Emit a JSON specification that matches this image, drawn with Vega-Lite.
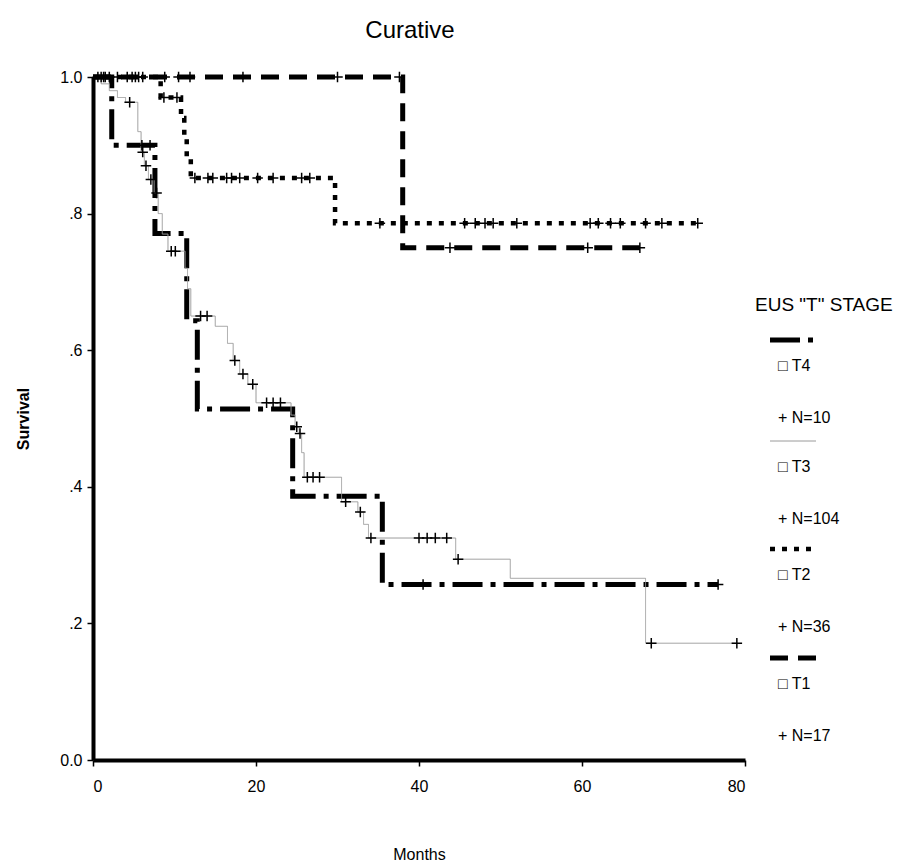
{
  "$schema": "https://vega.github.io/schema/vega-lite/v6.json",
  "width": 652,
  "height": 683,
  "autosize": {"type": "none"},
  "padding": {"left": 93, "top": 77, "right": 160, "bottom": 107},
  "background": "white",
  "config": {
    "font": "Liberation Sans",
    "view": {"stroke": null},
    "axis": {"grid": false, "domainColor": "black", "domainWidth": 4, "tickColor": "black", "tickWidth": 1.5, "tickSize": 6, "labelColor": "black", "labelFontSize": 16, "titleColor": "black", "labelFont": "Liberation Sans", "titleFont": "Liberation Sans"},
    "legend": {"orient": "none", "legendX": 662, "legendY": 219, "symbolType": "M1.4,-5.2L10.6,-5.2", "symbolSize": 100, "labelOffset": 7, "labelFontSize": 16, "labelColor": "black", "labelFont": "Liberation Sans", "titleFont": "Liberation Sans", "titleFontSize": 19, "titleFontWeight": "normal", "titleColor": "black", "titlePadding": 43, "rowPadding": 13, "labelLimit": 200, "titleLimit": 200}
  },
  "title": {"text": "Curative", "fontSize": 24, "font": "Liberation Sans", "fontWeight": "normal", "color": "black", "offset": 24, "dx": -9},
  "data": {"values": [
    {"g": "T4", "t": 0, "s": 1, "c": 0}, {"g": "T4", "t": 2.3, "s": 0.9, "c": 0}, {"g": "T4", "t": 7.6, "s": 0.771, "c": 0}, {"g": "T4", "t": 11.5, "s": 0.643, "c": 0}, {"g": "T4", "t": 12.8, "s": 0.514, "c": 0}, {"g": "T4", "t": 24.5, "s": 0.386, "c": 0}, {"g": "T4", "t": 35.5, "s": 0.257, "c": 0}, {"g": "T4", "t": 76.7, "s": 0.257, "c": 0},
    {"g": "T4", "t": 6.0, "s": 0.9, "c": 1}, {"g": "T4", "t": 7.0, "s": 0.9, "c": 1}, {"g": "T4", "t": 40.5, "s": 0.257, "c": 1}, {"g": "T4", "t": 76.7, "s": 0.257, "c": 1},

    {"g": "T3", "t": 0, "s": 1, "c": 0}, {"g": "T3", "t": 1, "s": 0.99, "c": 0}, {"g": "T3", "t": 2, "s": 0.98, "c": 0}, {"g": "T3", "t": 3, "s": 0.97, "c": 0}, {"g": "T3", "t": 4, "s": 0.963, "c": 0}, {"g": "T3", "t": 5.5, "s": 0.92, "c": 0}, {"g": "T3", "t": 5.9, "s": 0.89, "c": 0}, {"g": "T3", "t": 6.3, "s": 0.87, "c": 0}, {"g": "T3", "t": 6.8, "s": 0.85, "c": 0}, {"g": "T3", "t": 7.5, "s": 0.83, "c": 0}, {"g": "T3", "t": 8, "s": 0.8, "c": 0}, {"g": "T3", "t": 8.5, "s": 0.77, "c": 0}, {"g": "T3", "t": 9.2, "s": 0.745, "c": 0}, {"g": "T3", "t": 11.3, "s": 0.72, "c": 0}, {"g": "T3", "t": 11.6, "s": 0.69, "c": 0}, {"g": "T3", "t": 12, "s": 0.65, "c": 0}, {"g": "T3", "t": 15, "s": 0.635, "c": 0}, {"g": "T3", "t": 16.5, "s": 0.61, "c": 0}, {"g": "T3", "t": 17.2, "s": 0.585, "c": 0}, {"g": "T3", "t": 18, "s": 0.565, "c": 0}, {"g": "T3", "t": 19, "s": 0.55, "c": 0}, {"g": "T3", "t": 20, "s": 0.523, "c": 0}, {"g": "T3", "t": 24.3, "s": 0.505, "c": 0}, {"g": "T3", "t": 24.8, "s": 0.488, "c": 0}, {"g": "T3", "t": 25.3, "s": 0.478, "c": 0}, {"g": "T3", "t": 25.6, "s": 0.45, "c": 0}, {"g": "T3", "t": 25.9, "s": 0.414, "c": 0}, {"g": "T3", "t": 30.5, "s": 0.378, "c": 0}, {"g": "T3", "t": 32.5, "s": 0.363, "c": 0}, {"g": "T3", "t": 33.2, "s": 0.345, "c": 0}, {"g": "T3", "t": 33.8, "s": 0.325, "c": 0}, {"g": "T3", "t": 44.5, "s": 0.294, "c": 0}, {"g": "T3", "t": 51.2, "s": 0.266, "c": 0}, {"g": "T3", "t": 67.8, "s": 0.171, "c": 0}, {"g": "T3", "t": 79, "s": 0.171, "c": 0},
    {"g": "T3", "t": 4.5, "s": 0.963, "c": 1}, {"g": "T3", "t": 6.1, "s": 0.89, "c": 1}, {"g": "T3", "t": 6.5, "s": 0.87, "c": 1}, {"g": "T3", "t": 7.1, "s": 0.85, "c": 1}, {"g": "T3", "t": 7.8, "s": 0.83, "c": 1}, {"g": "T3", "t": 9.6, "s": 0.745, "c": 1}, {"g": "T3", "t": 10.1, "s": 0.745, "c": 1}, {"g": "T3", "t": 13.2, "s": 0.65, "c": 1}, {"g": "T3", "t": 14, "s": 0.65, "c": 1}, {"g": "T3", "t": 17.4, "s": 0.585, "c": 1}, {"g": "T3", "t": 18.4, "s": 0.565, "c": 1}, {"g": "T3", "t": 19.6, "s": 0.55, "c": 1}, {"g": "T3", "t": 21.3, "s": 0.523, "c": 1}, {"g": "T3", "t": 22.1, "s": 0.523, "c": 1}, {"g": "T3", "t": 23, "s": 0.523, "c": 1}, {"g": "T3", "t": 25.0, "s": 0.488, "c": 1}, {"g": "T3", "t": 25.4, "s": 0.478, "c": 1}, {"g": "T3", "t": 26.3, "s": 0.414, "c": 1}, {"g": "T3", "t": 27, "s": 0.414, "c": 1}, {"g": "T3", "t": 27.8, "s": 0.414, "c": 1}, {"g": "T3", "t": 31, "s": 0.378, "c": 1}, {"g": "T3", "t": 32.8, "s": 0.363, "c": 1}, {"g": "T3", "t": 34.1, "s": 0.325, "c": 1}, {"g": "T3", "t": 40, "s": 0.325, "c": 1}, {"g": "T3", "t": 41, "s": 0.325, "c": 1}, {"g": "T3", "t": 42, "s": 0.325, "c": 1}, {"g": "T3", "t": 43.4, "s": 0.325, "c": 1}, {"g": "T3", "t": 44.8, "s": 0.294, "c": 1}, {"g": "T3", "t": 68.5, "s": 0.171, "c": 1}, {"g": "T3", "t": 79, "s": 0.171, "c": 1},

    {"g": "T2", "t": 0, "s": 1, "c": 0}, {"g": "T2", "t": 8.3, "s": 0.97, "c": 0}, {"g": "T2", "t": 10.8, "s": 0.94, "c": 0}, {"g": "T2", "t": 11.2, "s": 0.91, "c": 0}, {"g": "T2", "t": 11.5, "s": 0.88, "c": 0}, {"g": "T2", "t": 12, "s": 0.852, "c": 0}, {"g": "T2", "t": 29.7, "s": 0.786, "c": 0}, {"g": "T2", "t": 74.2, "s": 0.786, "c": 0},
    {"g": "T2", "t": 1.5, "s": 1, "c": 1}, {"g": "T2", "t": 3, "s": 1, "c": 1}, {"g": "T2", "t": 4.8, "s": 1, "c": 1}, {"g": "T2", "t": 5.6, "s": 1, "c": 1}, {"g": "T2", "t": 8.7, "s": 0.97, "c": 1}, {"g": "T2", "t": 10.3, "s": 0.97, "c": 1}, {"g": "T2", "t": 12.5, "s": 0.852, "c": 1}, {"g": "T2", "t": 14.1, "s": 0.852, "c": 1}, {"g": "T2", "t": 14.7, "s": 0.852, "c": 1}, {"g": "T2", "t": 16.4, "s": 0.852, "c": 1}, {"g": "T2", "t": 17, "s": 0.852, "c": 1}, {"g": "T2", "t": 18, "s": 0.852, "c": 1}, {"g": "T2", "t": 20.2, "s": 0.852, "c": 1}, {"g": "T2", "t": 22.1, "s": 0.852, "c": 1}, {"g": "T2", "t": 25.6, "s": 0.852, "c": 1}, {"g": "T2", "t": 26.6, "s": 0.852, "c": 1}, {"g": "T2", "t": 35.2, "s": 0.786, "c": 1}, {"g": "T2", "t": 45.6, "s": 0.786, "c": 1}, {"g": "T2", "t": 46.9, "s": 0.786, "c": 1}, {"g": "T2", "t": 48.1, "s": 0.786, "c": 1}, {"g": "T2", "t": 49.1, "s": 0.786, "c": 1}, {"g": "T2", "t": 52, "s": 0.786, "c": 1}, {"g": "T2", "t": 61, "s": 0.786, "c": 1}, {"g": "T2", "t": 62, "s": 0.786, "c": 1}, {"g": "T2", "t": 63.5, "s": 0.786, "c": 1}, {"g": "T2", "t": 64.7, "s": 0.786, "c": 1}, {"g": "T2", "t": 67.8, "s": 0.786, "c": 1}, {"g": "T2", "t": 69.8, "s": 0.786, "c": 1}, {"g": "T2", "t": 74.2, "s": 0.786, "c": 1},

    {"g": "T1", "t": 0, "s": 1, "c": 0}, {"g": "T1", "t": 38, "s": 0.75, "c": 0}, {"g": "T1", "t": 67.1, "s": 0.75, "c": 0},
    {"g": "T1", "t": 0.6, "s": 1, "c": 1}, {"g": "T1", "t": 1, "s": 1, "c": 1}, {"g": "T1", "t": 1.3, "s": 1, "c": 1}, {"g": "T1", "t": 2, "s": 1, "c": 1}, {"g": "T1", "t": 4.2, "s": 1, "c": 1}, {"g": "T1", "t": 5.2, "s": 1, "c": 1}, {"g": "T1", "t": 6.1, "s": 1, "c": 1}, {"g": "T1", "t": 8.8, "s": 1, "c": 1}, {"g": "T1", "t": 10.5, "s": 1, "c": 1}, {"g": "T1", "t": 11.9, "s": 1, "c": 1}, {"g": "T1", "t": 18.4, "s": 1, "c": 1}, {"g": "T1", "t": 30, "s": 1, "c": 1}, {"g": "T1", "t": 37.6, "s": 1, "c": 1}, {"g": "T1", "t": 43.8, "s": 0.75, "c": 1}, {"g": "T1", "t": 60.7, "s": 0.75, "c": 1}, {"g": "T1", "t": 67.1, "s": 0.75, "c": 1}
  ]},
  "encoding": {
    "x": {"field": "t", "type": "quantitative", "scale": {"domain": [0, 80], "nice": false}, "axis": {"values": [0, 20, 40, 60, 80], "title": "Months", "titleFontSize": 16, "titleFontWeight": "normal", "titlePadding": 52, "labelPadding": 12}},
    "y": {"field": "s", "type": "quantitative", "scale": {"domain": [0, 1], "nice": false}, "axis": {"values": [0, 0.2, 0.4, 0.6, 0.8, 1], "labelExpr": "datum.value == 0 ? '0.0' : datum.value == 1 ? '1.0' : replace(format(datum.value, '.1f'), '0.', '.')", "title": "Survival", "titleFontSize": 16, "titleFontWeight": "bold", "titlePadding": 28, "labelPadding": 5}}
  },
  "layer": [
    {
      "transform": [{"filter": "datum.c == 0"}],
      "mark": {"type": "line", "interpolate": "step-after", "strokeCap": "butt"},
      "encoding": {
        "detail": {"field": "g"},
        "color": {"field": "g", "type": "nominal", "scale": {"domain": ["T4", "T3", "T2", "T1"], "range": ["black", "#9a9a9a", "black", "black"]}, "legend": {"title": "EUS \"T\" STAGE", "labelExpr": "datum.label == 'T4' ? ['□  T4', '+  N=10'] : datum.label == 'T3' ? ['□  T3', '+  N=104'] : datum.label == 'T2' ? ['□  T2', '+  N=36'] : ['□  T1', '+  N=17']", "encode": {"labels": {"update": {"lineHeight": {"value": 52}}}}}},
        "strokeDash": {"field": "g", "type": "nominal", "scale": {"domain": ["T4", "T3", "T2", "T1"], "range": [[30, 8, 5, 8], [1, 0], [5, 7], [18, 10]]}, "legend": {"title": "EUS \"T\" STAGE", "labelExpr": "datum.label == 'T4' ? ['□  T4', '+  N=10'] : datum.label == 'T3' ? ['□  T3', '+  N=104'] : datum.label == 'T2' ? ['□  T2', '+  N=36'] : ['□  T1', '+  N=17']", "encode": {"labels": {"update": {"lineHeight": {"value": 52}}}}}},
        "strokeWidth": {"field": "g", "type": "nominal", "scale": {"type": "ordinal", "domain": ["T4", "T3", "T2", "T1"], "range": [5, 1, 4.5, 5]}, "legend": {"title": "EUS \"T\" STAGE", "labelExpr": "datum.label == 'T4' ? ['□  T4', '+  N=10'] : datum.label == 'T3' ? ['□  T3', '+  N=104'] : datum.label == 'T2' ? ['□  T2', '+  N=36'] : ['□  T1', '+  N=17']", "encode": {"labels": {"update": {"lineHeight": {"value": 52}}}}}}
      }
    },
    {
      "transform": [{"filter": "datum.c == 1"}],
      "mark": {"type": "point", "shape": "M-1,0L1,0M0,-1L0,1", "filled": false, "stroke": "black", "strokeWidth": 1.5, "size": 110, "opacity": 1}
    }
  ]
}
